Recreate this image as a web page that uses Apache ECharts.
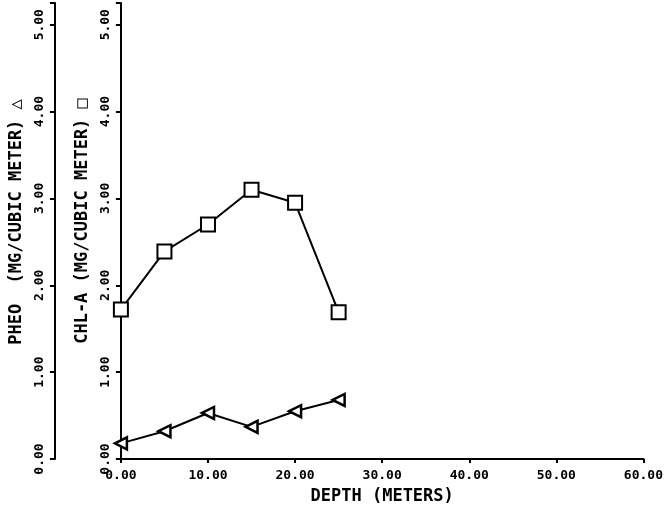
<!DOCTYPE html>
<html>
<head>
<meta charset="utf-8">
<script src="https://cdn.jsdelivr.net/npm/echarts@6/dist/echarts.min.js"></script>
<style>html,body{margin:0;padding:0;background:#fff}#c{width:666px;height:512px}</style>
</head>
<body>
<div id="c"></div>
<script>
var depths = [0, 5, 10, 15, 20, 25];
var chlA = [1.72, 2.39, 2.70, 3.10, 2.95, 1.69];
var pheo = [0.18, 0.32, 0.53, 0.37, 0.55, 0.68];
var xTicks = [0, 10, 20, 30, 40, 50, 60];
var yTicks = [0, 1, 2, 3, 4, 5];
var xName = 'DEPTH (METERS)';
var pheoName = 'PHEO  (MG/CUBIC METER) \u25B3';
var chlName = 'CHL-A (MG/CUBIC METER) \u25A1';

var FONT = '"DejaVu Sans Mono", monospace';
var chart = echarts.init(document.getElementById('c'), null, {renderer: 'canvas'});
function fmt(v){ return Number(v).toFixed(2); }
var axisLine = {show: true, onZero: false, lineStyle: {color: '#000', width: 2}};
var axisTick = {show: true, length: 5, lineStyle: {color: '#000', width: 2}};
function yAxis(name, offset, gap, pad) {
  return {
    type: 'value', position: 'left', offset: offset,
    min: yTicks[0], max: 5.25, interval: 1,
    name: name, nameLocation: 'middle', nameRotate: 90, nameGap: gap,
    nameTextStyle: {fontFamily: FONT, fontWeight: 'bold', fontSize: 17, color: '#000', padding: pad},
    axisLine: axisLine, axisTick: axisTick,
    axisLabel: {rotate: 90, margin: 9, fontFamily: FONT, fontWeight: 'bold', fontSize: 13, color: '#000',
      formatter: function(v){ return yTicks.indexOf(v) >= 0 ? fmt(v) : ''; }},
    splitLine: {show: false}
  };
}
chart.setOption({
  animation: false,
  backgroundColor: '#fff',
  grid: {left: 119, right: 19, top: 3, bottom: 53, containLabel: false},
  xAxis: {
    type: 'value', min: xTicks[0], max: xTicks[xTicks.length-1], interval: 10,
    name: xName, nameLocation: 'middle', nameGap: 29,
    nameTextStyle: {fontFamily: FONT, fontWeight: 'bold', fontSize: 17, color: '#000'},
    axisLine: axisLine, axisTick: {show: true, length: 4, lineStyle: {color: '#000', width: 2}},
    axisLabel: {margin: 10, fontFamily: FONT, fontWeight: 'bold', fontSize: 13, color: '#000', formatter: fmt},
    splitLine: {show: false}
  },
  yAxis: [
    yAxis(chlName, 0, 21, [0, 0, 0, 20]),
    yAxis(pheoName, 66, 23, [0, 0, 0, 18])
  ],
  series: [
    {
      type: 'line', yAxisIndex: 0,
      data: depths.map(function(d, i){ return [d, chlA[i]]; }),
      symbol: 'rect', symbolSize: 14, showAllSymbol: true,
      lineStyle: {color: '#000', width: 2},
      itemStyle: {color: '#fff', borderColor: '#000', borderWidth: 2}
    },
    {
      type: 'line', yAxisIndex: 0,
      data: depths.map(function(d, i){ return [d, pheo[i]]; }),
      symbol: 'triangle', symbolSize: 12, symbolRotate: 90, showAllSymbol: true,
      lineStyle: {color: '#000', width: 2},
      itemStyle: {color: '#fff', borderColor: '#000', borderWidth: 2.5}
    }
  ]
});
</script>
</body>
</html>
